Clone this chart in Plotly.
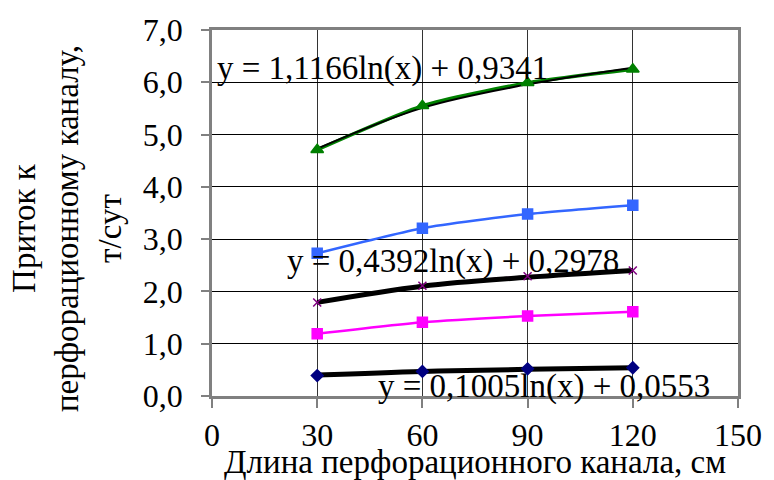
import plotly.graph_objects as go

# --- data ---
x_len = [30, 60, 90, 120]

green_vals = [4.71, 5.55, 5.99, 6.25]
blue_vals = [2.73, 3.21, 3.48, 3.65]
purple_vals = [1.79, 2.11, 2.29, 2.40]
magenta_vals = [1.19, 1.41, 1.53, 1.61]
navy_vals = [0.39, 0.47, 0.52, 0.54]

# logarithmic trend lines (values read at the same x positions)
green_trend = [4.73, 5.51, 5.96, 6.28]
purple_trend = [1.79, 2.10, 2.27, 2.40]
navy_trend = [0.40, 0.47, 0.51, 0.54]

eq_green = "y = 1,1166ln(x) + 0,9341"
eq_purple = "y = 0,4392ln(x) + 0,2978"
eq_navy = "y = 0,1005ln(x) + 0,0553"

x_ticks = [0, 30, 60, 90, 120, 150]
y_ticks = [0, 1, 2, 3, 4, 5, 6, 7]

x_title = "Длина перфорационного канала, см"
y_title = "Приток к<br>перфорационному каналу,<br>т/сут"

FONT = "Liberation Serif, Times New Roman, serif"
FS = 32

fig = go.Figure()

series = [
    (green_vals, "#008000", 3.5, "triangle-up", 11),
    (blue_vals, "#3366FF", 2.5, "square", 10),
    (purple_vals, "#800080", 2, "x-thin", 8),
    (magenta_vals, "#FF00FF", 2.5, "square", 10),
    (navy_vals, "#000080", 2, "diamond", 9),
]

for vals, col, w, sym, sz in series:
    fig.add_trace(go.Scatter(x=x_len, y=vals, mode="lines",
                             line=dict(color=col, width=w, shape="spline", smoothing=0.6),
                             showlegend=False, hoverinfo="skip"))

trends = [(green_trend, 2), (purple_trend, 5), (navy_trend, 5)]
for vals, w in trends:
    fig.add_trace(go.Scatter(x=x_len, y=vals, mode="lines",
                             line=dict(color="black", width=w, shape="spline", smoothing=1.0),
                             showlegend=False, hoverinfo="skip"))

for vals, col, w, sym, sz in series:
    fig.add_trace(go.Scatter(x=x_len, y=vals, mode="markers",
                             marker=dict(color=col, symbol=sym, size=sz,
                                         line=dict(color=col, width=1.5)),
                             showlegend=False, hoverinfo="skip"))

annots = [
    (eq_green, 0.85, 6.27),
    (eq_purple, 20.9, 2.58),
    (eq_navy, 46.8, 0.19),
]
for txt, ax, ay in annots:
    fig.add_annotation(x=ax, y=ay, xref="x", yref="y", text=txt, showarrow=False,
                       xanchor="left", yanchor="middle",
                       font=dict(family=FONT, size=33, color="black"))

fig.add_annotation(x=0.5, y=-0.18, xref="paper", yref="paper", text=x_title,
                   showarrow=False, xanchor="center", yanchor="middle",
                   font=dict(family=FONT, size=33, color="black"))
fig.add_annotation(x=(66 - 212) / 532, y=(396 - 228) / 367, xref="paper", yref="paper",
                   text=y_title, showarrow=False, textangle=-90,
                   xanchor="center", yanchor="middle",
                   font=dict(family=FONT, size=33, color="black"))

fig.update_layout(
    width=774, height=480,
    margin=dict(l=212, r=30, t=29, b=84),
    paper_bgcolor="white", plot_bgcolor="white",
    separators=", ",
    font=dict(family=FONT, size=FS, color="black"),
    showlegend=False,
)
fig.update_xaxes(range=[0, 150], tickvals=x_ticks, ticks="outside", ticklen=9,
                 tickcolor="#808080", tickwidth=2,
                 showline=True, linecolor="#808080", linewidth=2.5, mirror=True,
                 showgrid=True, gridcolor="#333333", gridwidth=1, zeroline=False,
                 tickfont=dict(family=FONT, size=FS, color="black"))
fig.update_yaxes(range=[0, 7], tickvals=y_ticks, tickformat=".1f", ticks="outside", ticklen=8,
                 tickcolor="#808080", tickwidth=2,
                 showline=True, linecolor="#808080", linewidth=2.5, mirror=True,
                 showgrid=True, gridcolor="black", gridwidth=1, zeroline=False,
                 ticklabelstandoff=12,
                 tickfont=dict(family=FONT, size=FS, color="black"))

fig.write_html("out.html")
